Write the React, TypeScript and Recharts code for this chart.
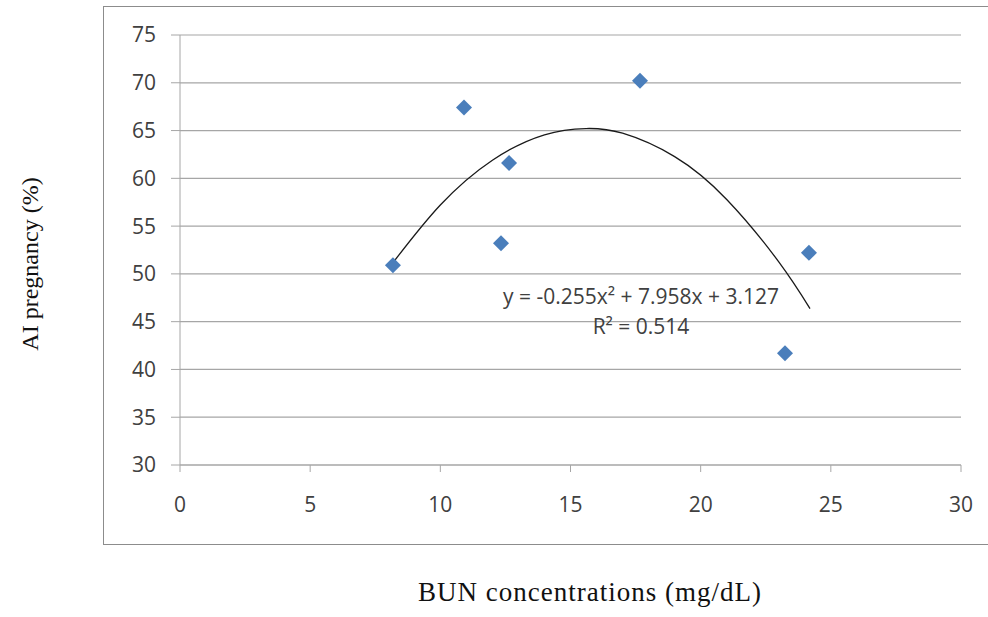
import React from 'react';
import { ComposedChart, Scatter, Line, XAxis, YAxis, CartesianGrid } from 'recharts';

// BUN concentration (mg/dL) vs AI pregnancy (%)
const bunValues = [8.18, 10.91, 12.64, 12.33, 17.67, 24.16, 23.24];
const pregnancyValues = [50.9, 67.4, 61.6, 53.2, 70.2, 52.2, 41.7];

// points read along the fitted polynomial trendline
const trendX = [8.2, 10, 12, 14, 15.6, 17, 19, 21, 23, 24.2];
const trendY = [51.24, 57.21, 61.9, 64.56, 65.21, 64.72, 62.27, 57.79, 51.26, 46.37];

const xTicks = [0, 5, 10, 15, 20, 25, 30];
const yTicks = [30, 35, 40, 45, 50, 55, 60, 65, 70, 75];

const equationText = 'y = -0.255x² + 7.958x + 3.127';
const r2Text = 'R² = 0.514';

const points = bunValues.map((x, i) => ({ x, y: pregnancyValues[i] }));
const trend = trendX.map((x, i) => ({ x, y: trendY[i] }));

const Diamond = (props: any) => {
  const { cx, cy } = props;
  if (cx == null || cy == null) return null;
  return (
    <polygon
      points={`${cx},${cy - 8} ${cx + 8},${cy} ${cx},${cy + 8} ${cx - 8},${cy}`}
      fill="#4a7ebb"
    />
  );
};

const tickStyle = { fontFamily: '"Open Sans", sans-serif', fontSize: 21, fill: '#404040' };

export default function App() {
  return (
    <div style={{ position: 'absolute', left: 0, top: 0, width: 988, height: 617, background: '#fff', overflow: 'hidden' }}>
      {/* chart area frame */}
      <div
        style={{
          position: 'absolute',
          left: 103,
          top: 6,
          width: 900,
          height: 539,
          border: '1.5px solid #8c8c8c',
          boxSizing: 'border-box',
        }}
      />
      <div style={{ position: 'absolute', left: 0, top: 0 }}>
        <ComposedChart width={988} height={617} margin={{ top: 35, right: 27, bottom: 122, left: 100 }}>
          <CartesianGrid horizontal vertical={false} stroke="#a6a6a6" strokeWidth={1.2} />
          <XAxis
            type="number"
            dataKey="x"
            domain={[0, 30]}
            ticks={xTicks}
            interval={0}
            height={30}
            stroke="#a6a6a6"
            tickSize={7}
            tickMargin={25}
            tick={tickStyle}
            allowDataOverflow
          />
          <YAxis
            type="number"
            dataKey="y"
            domain={[30, 75]}
            ticks={yTicks}
            interval={0}
            width={80}
            stroke="#a6a6a6"
            tickSize={9}
            tickMargin={15}
            tick={tickStyle}
            allowDataOverflow
          />
          <Line
            data={trend}
            dataKey="y"
            type="natural"
            stroke="#1a1a1a"
            strokeWidth={1.3}
            dot={false}
            activeDot={false}
            isAnimationActive={false}
          />
          <Scatter data={points} dataKey="y" shape={<Diamond />} isAnimationActive={false} />
        </ComposedChart>
      </div>
      {/* trendline label */}
      <div
        style={{
          position: 'absolute',
          left: 491,
          top: 281,
          width: 300,
          textAlign: 'center',
          fontFamily: '"Open Sans", sans-serif',
          fontSize: 21,
          lineHeight: '30px',
          color: '#404040',
          whiteSpace: 'nowrap',
        }}
      >
        <div>{equationText}</div>
        <div>{r2Text}</div>
      </div>
      {/* y axis title */}
      <div
        style={{
          position: 'absolute',
          left: 30,
          top: 264,
          transform: 'translate(-50%, -50%) rotate(-90deg)',
          fontFamily: '"Liberation Serif", "Times New Roman", serif',
          fontSize: 24,
          color: '#111',
          whiteSpace: 'nowrap',
        }}
      >
        AI pregnancy (%)
      </div>
      {/* x axis title */}
      <div
        style={{
          position: 'absolute',
          left: 590,
          top: 592,
          transform: 'translate(-50%, -50%)',
          fontFamily: '"Liberation Serif", "Times New Roman", serif',
          fontSize: 27,
          letterSpacing: 1,
          color: '#111',
          whiteSpace: 'nowrap',
        }}
      >
        BUN concentrations (mg/dL)
      </div>
    </div>
  );
}
